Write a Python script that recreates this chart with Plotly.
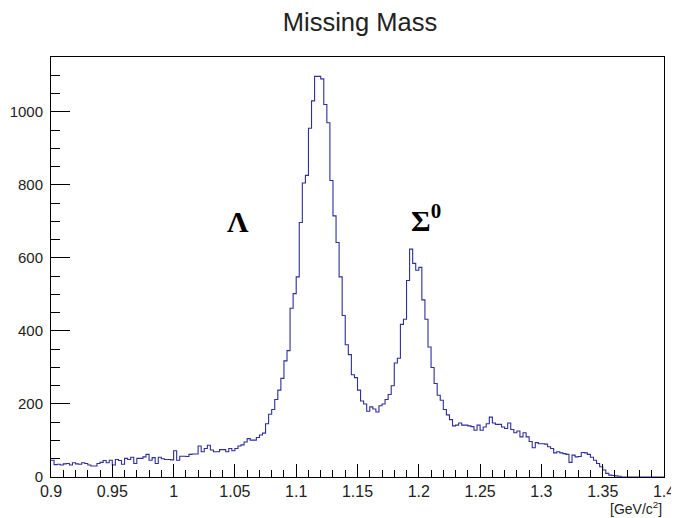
import numpy as np
import plotly.graph_objects as go

# ---- data ----
x_lo, x_hi, n_bins = 0.9, 1.4, 200
counts = [
    46, 34, 35, 33, 36, 37, 33, 39, 36, 35,
    39, 37, 33, 30, 30, 37, 40, 45, 39, 46,
    33, 48, 45, 35, 51, 48, 54, 37, 51, 51,
    55, 62, 46, 53, 37, 54, 50, 48, 48, 47,
    72, 46, 57, 57, 56, 62, 63, 63, 85, 69,
    78, 87, 74, 69, 69, 75, 75, 69, 78, 72,
    78, 85, 88, 96, 105, 101, 101, 108, 115, 120,
    146, 172, 185, 212, 238, 270, 318, 346, 462, 502,
    548, 697, 805, 826, 955, 1030, 1097, 1097, 1090, 1020,
    970, 812, 715, 642, 548, 442, 362, 335, 280, 272,
    238, 208, 200, 180, 192, 186, 178, 195, 200, 212,
    226, 250, 312, 325, 418, 432, 538, 624, 585, 566,
    574, 485, 432, 356, 300, 256, 224, 210, 185, 170,
    157, 140, 142, 148, 142, 142, 140, 138, 128, 142,
    128, 137, 146, 164, 148, 144, 144, 137, 133, 148,
    130, 121, 126, 110, 121, 110, 97, 80, 94, 91,
    91, 90, 83, 78, 66, 69, 66, 64, 62, 40,
    60, 55, 56, 67, 66, 62, 54, 46, 37, 28,
    19, 10, 5, 4, 3, 2, 0, 0, 0, 0,
    0, 0, 0, 0, 0, 0, 0, 0, 0, 0,
]
x_tick_vals = [0.9, 0.95, 1.0, 1.05, 1.1, 1.15, 1.2, 1.25, 1.3, 1.35, 1.4]
x_tick_text = ["0.9", "0.95", "1", "1.05", "1.1", "1.15", "1.2", "1.25", "1.3", "1.35", "1.4"]
y_tick_vals = [0, 200, 400, 600, 800, 1000]
title_text = "Missing Mass"
x_title = "[GeV/c<sup>2</sup>]"
peak_labels = ["<b>Λ</b>", "<b>Σ<sup>0</sup></b>"]
peak_x = [1.0525, 1.206]
peak_y = [700, 710]

edges = np.linspace(x_lo, x_hi, n_bins + 1)
step_y = list(counts) + [counts[-1]]

# page body has an 8px default margin, so the figure is drawn 8px in from the window edge
W, H = 671, 510

fig = go.Figure()
fig.add_trace(go.Scatter(
    x=edges, y=step_y, mode="lines", line_shape="hv",
    line=dict(color="#2e2e9c", width=1.1), showlegend=False, hoverinfo="skip",
))

for txt, px, py in zip(peak_labels, peak_x, peak_y):
    fig.add_annotation(x=px, y=py, text=txt, showarrow=False,
                       font=dict(family="Liberation Serif, Times New Roman, serif", size=30, color="black"))

fig.add_annotation(x=1, y=0, xref="paper", yref="paper", text=x_title, showarrow=False,
                   xanchor="right", yanchor="middle", yshift=-31,
                   font=dict(family="Liberation Sans, Arial, sans-serif", size=14, color="#222"))

fig.update_layout(
    width=W, height=H,
    paper_bgcolor="white", plot_bgcolor="white",
    margin=dict(l=43, r=15, t=49, b=41, autoexpand=False),
    font=dict(family="Liberation Sans, Arial, sans-serif", size=16, color="#222"),
    title=dict(text=title_text, x=352 / W, xanchor="center", y=1 - 14 / H, yanchor="middle",
               font=dict(size=25.5, color="#222")),
)
fig.update_xaxes(
    range=[x_lo, x_hi], tickmode="array", tickvals=x_tick_vals, ticktext=x_tick_text,
    ticks="inside", ticklen=13, tickwidth=1, tickcolor="black",
    showline=True, linecolor="black", linewidth=1, mirror=True,
    showgrid=False, zeroline=False, automargin=False,
    minor=dict(tickmode="linear", tick0=0.9, dtick=0.01, ticks="inside", ticklen=7,
               tickcolor="black", tickwidth=1, showgrid=False),
)
fig.update_yaxes(
    range=[0, 1150], tickmode="array", tickvals=y_tick_vals,
    ticks="inside", ticklen=19, tickwidth=1, tickcolor="black",
    showline=True, linecolor="black", linewidth=1, mirror=True,
    showgrid=False, zeroline=False, ticklabelstandoff=4, automargin=False,
    tickfont=dict(size=15),
    minor=dict(tickmode="linear", tick0=0, dtick=50, ticks="inside", ticklen=9,
               tickcolor="black", tickwidth=1, showgrid=False),
)

fig.write_html("out.html")
